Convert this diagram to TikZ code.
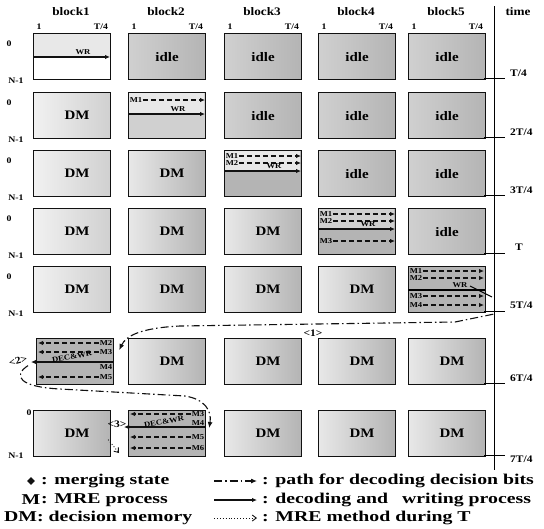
\documentclass[tikz,border=0pt]{standalone}
\usepackage{fontspec}
\setmainfont{Liberation Serif}[FakeStretch=1.15]
\newfontfamily\legendfont{Liberation Serif}[FakeStretch=1.32]
\usepackage{tikz}
\usetikzlibrary{arrows.meta,positioning,shapes.geometric,calc}
\usepackage{xcolor}
\definecolor{DotLight}{HTML}{E8E8E8}
\definecolor{DotMid}{HTML}{D0D0D0}
\definecolor{DotDark}{HTML}{B4B4B4}
\definecolor{Ink}{HTML}{111111}
\tikzset{
  blk/.style={draw=Ink, line width=1.2pt, anchor=north west, minimum width=77pt, minimum height=46pt, inner sep=0pt, font=\bfseries\fontsize{13}{14}\selectfont},
  lightbox/.style={blk, left color=DotLight!60, right color=DotMid},
  dmbox/.style={blk, left color=DotLight, right color=DotDark},
  idlebox/.style={blk, left color=DotMid, right color=DotDark},
  tag/.style={font=\bfseries\fontsize{7.5}{8}\selectfont, inner sep=0.5pt},
  side/.style={font=\bfseries\fontsize{8.5}{9}\selectfont, inner sep=0.5pt},
  head/.style={font=\bfseries\fontsize{11.5}{13}\selectfont, inner sep=1pt},
  tlabel/.style={font=\bfseries\fontsize{10}{11}\selectfont, anchor=west, inner sep=1pt},
  legtext/.style={font=\legendfont\bfseries\fontsize{15}{16}\selectfont, inner sep=0pt},
  wr/.style={line width=1.2pt, draw=Ink, -{Latex[length=5pt,width=4.5pt]}},
  mre/.style={line width=1.3pt, draw=Ink, dash pattern=on 5pt off 3pt, -{Latex[length=5pt,width=4.5pt]}},
  decpath/.style={line width=1.1pt, draw=Ink, dash pattern=on 8pt off 3pt on 1.5pt off 3pt, -{Latex[length=6pt,width=5pt]}},
  mremeth/.style={line width=0.9pt, draw=Ink, dotted, -{Straight Barb[length=4pt,width=6pt]}}
}

\begin{document}
\begin{tikzpicture}[x=1pt,y=-1pt]
\useasboundingbox (0,0) rectangle (544,528);
% headings
\node[head] (h1) at (71,12) {block1};
\node[head] (h2) at (166,12) {block2};
\node[head] (h3) at (262,12) {block3};
\node[head] (h4) at (356,12) {block4};
\node[head] (h5) at (446,12) {block5};
\node[head] (ht) at (518,12) {time};
\node[side] (s1) at (39,27) {1};  \node[side] (e1) at (101,27) {T/4};
\node[side] (s2) at (134,27) {1}; \node[side] (e2) at (196,27) {T/4};
\node[side] (s3) at (230,27) {1}; \node[side] (e3) at (292,27) {T/4};
\node[side] (s4) at (324,27) {1}; \node[side] (e4) at (386,27) {T/4};
\node[side] (s5) at (414,27) {1}; \node[side] (e5) at (476,27) {T/4};

% row 1
\fill[DotLight] (33,33) rectangle (110,57);
\node[blk] (b11) at (33,33) {};
\node[idlebox] (b21) at (128,33) {idle};
\node[idlebox] (b31) at (224,33) {idle};
\node[idlebox] (b41) at (318,33) {idle};
\node[idlebox] (b51) at (408,33) {idle};
% row 2
\node[lightbox] (b12) at (33,92) {\hspace*{10pt}DM};
\node[blk, fill=DotMid] (b22) at (128,92) {};
\node[idlebox] (b32) at (224,92) {idle};
\node[idlebox] (b42) at (318,92) {idle};
\node[idlebox] (b52) at (408,92) {idle};
% row 3
\node[lightbox] (b13) at (33,150) {\hspace*{10pt}DM};
\node[dmbox] (b23) at (128,150) {\hspace*{10pt}DM};
\node[blk, fill=DotDark] (b33) at (224,150) {};
\node[idlebox] (b43) at (318,150) {idle};
\node[idlebox] (b53) at (408,150) {idle};
% row 4
\node[lightbox] (b14) at (33,208) {\hspace*{10pt}DM};
\node[dmbox] (b24) at (128,208) {\hspace*{10pt}DM};
\node[dmbox] (b34) at (224,208) {\hspace*{10pt}DM};
\node[blk, fill=DotDark] (b44) at (318,208) {};
\node[idlebox] (b54) at (408,208) {idle};
% row 5
\node[lightbox] (b15) at (33,266) {\hspace*{10pt}DM};
\node[dmbox] (b25) at (128,266) {\hspace*{10pt}DM};
\node[dmbox] (b35) at (224,266) {\hspace*{10pt}DM};
\node[dmbox] (b45) at (318,266) {\hspace*{10pt}DM};
\node[blk, fill=DotDark] (b55) at (408,266) {};
% row 6
\node[blk, fill=DotDark] (b16) at (36,338) {};
\node[dmbox] (b26) at (128,338) {\hspace*{10pt}DM};
\node[dmbox] (b36) at (224,338) {\hspace*{10pt}DM};
\node[dmbox] (b46) at (318,338) {\hspace*{10pt}DM};
\node[dmbox] (b56) at (408,338) {\hspace*{10pt}DM};
% row 7
\node[dmbox] (b17) at (33,410) {\hspace*{10pt}DM};
\node[blk, fill=DotDark] (b27) at (128,410) {};
\node[dmbox] (b37) at (224,410) {\hspace*{10pt}DM};
\node[dmbox] (b47) at (318,410) {\hspace*{10pt}DM};
\node[dmbox] (b57) at (408,410) {\hspace*{10pt}DM};

% memory index
\node[side] (z1) at (9,44) {0};  \node[side] (n1) at (16,81) {N-1};
\node[side] (z2) at (9,103) {0}; \node[side] (n2) at (16,140) {N-1};
\node[side] (z3) at (9,161) {0}; \node[side] (n3) at (16,198) {N-1};
\node[side] (z4) at (9,219) {0}; \node[side] (n4) at (16,256) {N-1};
\node[side] (z5) at (9,277) {0}; \node[side] (n5) at (16,314) {N-1};
\node[side] (z7) at (29,413) {0}; \node[side] (n7) at (16,456) {N-1};

% block1, row 1
\begin{scope}[shift={(b11.north west)}]
\draw[wr] (0,24) -- (77,24);
\node[tag] (wr1) at (50,19) {WR};
\end{scope}
% block2, row 2
\begin{scope}[shift={(b22.north west)}]
\fill[DotLight] (0.6,0.6) rectangle (76.4,22);
\node[tag] (m22a) at (8,8) {M1};
\draw[mre] (m22a.east) -- (77,8);
\draw[wr] (0,22) -- (77,22);
\node[tag] (wr2) at (50,17) {WR};
\end{scope}
% block3, row 3
\begin{scope}[shift={(b33.north west)}]
\fill[DotLight] (0.6,0.6) rectangle (76.4,21);
\node[tag] (m33a) at (8,6) {M1};
\node[tag] (m33b) at (8,13) {M2};
\draw[mre] (m33a.east) -- (77,6);
\draw[mre] (m33b.east) -- (77,13);
\draw[wr] (0,21) -- (77,21);
\node[tag] (wr3) at (50,16) {WR};
\end{scope}
% block4, row 4
\begin{scope}[shift={(b44.north west)}]
\fill[DotMid] (0.6,0.6) rectangle (76.4,21);
\node[tag] (m44a) at (8,6) {M1};
\node[tag] (m44b) at (8,13) {M2};
\draw[mre] (m44a.east) -- (77,6);
\draw[mre] (m44b.east) -- (77,13);
\draw[wr] (0,21) -- (77,21);
\node[tag] (wr4) at (50,16) {WR};
\node[tag] (m44c) at (8,33) {M3};
\draw[mre] (m44c.east) -- (77,33);
\end{scope}
% block5, row 5
\begin{scope}[shift={(b55.north west)}]
\node[tag] (m55a) at (8,5) {M1};
\node[tag] (m55b) at (8,12) {M2};
\draw[mre] (m55a.east) -- (76,5);
\draw[mre] (m55b.east) -- (76,12);
\draw[line width=1.1pt] (0,24) -- (77,24);
\node[tag] (wr5) at (52,19.5) {WR};
\draw[line width=1pt] (62,20) -- (84,31);
\node[tag] (m55c) at (8,30) {M3};
\node[tag] (m55d) at (8,39) {M4};
\draw[mre] (m55c.east) -- (76,30);
\draw[mre] (m55d.east) -- (76,39);
\end{scope}
% block1, row 6 (decoding back)
\begin{scope}[shift={(b16.north west)}]
\node[tag] (m16a) at (70,5) {M2};
\node[tag] (m16b) at (70,14) {M3};
\node[tag] (m16c) at (70,29) {M4};
\node[tag] (m16d) at (70,39) {M5};
\draw[mre] (m16a.west) -- (2,5);
\draw[mre] (m16b.west) -- (2,14);
\draw[wr] (77,24) -- (-5,24);
\node[tag, rotate=10] (dw6) at (36,19) {DEC\&WR};
\draw[mre] (m16d.west) -- (2,39);
\end{scope}
% block2, row 7 (decoding back)
\begin{scope}[shift={(b27.north west)}]
\node[tag] (m27a) at (70,4) {M3};
\node[tag] (m27b) at (70,13) {M4};
\node[tag] (m27c) at (70,27) {M5};
\node[tag] (m27d) at (70,38) {M6};
\draw[mre] (m27a.west) -- (2,4);
\draw[wr] (77,17) -- (-4,17);
\node[tag, rotate=10] (dw7) at (36,12) {DEC\&WR};
\draw[mre] (m27c.west) -- (2,27);
\draw[mre] (m27d.west) -- (2,38);
\end{scope}

% paths for decoding decision bits
\coordinate (p1s) at ([xshift=7pt,yshift=-1pt]b55.south east);
\draw[decpath] (p1s) -- (455,322) -- (180,326) .. controls (140,328) and (126,336) .. ([xshift=5pt,yshift=-12pt]b16.north east);
\node[side, font=\bfseries\fontsize{10}{11}\selectfont] (lab1) at (313,333) {<1>};
\draw[decpath] ([xshift=-8pt,yshift=-4pt]b16.west) .. controls (12,376) and (20,387) .. (60,389) -- (185,396) .. controls (204,399) and (212,410) .. ([xshift=3pt,yshift=-18pt]b27.north east);
\node[side, font=\bfseries\fontsize{10}{11}\selectfont, rotate=15] (lab2) at (18,361) {<2>};
\coordinate (p3e) at (119,453);
\draw[mremeth] ([xshift=-3pt,yshift=-6pt]b17.east) -- (p3e);
\node[side, font=\bfseries\fontsize{10}{11}\selectfont] (lab3) at (117,424) {<3>};

% time axis
\draw[line width=0.8pt] (494,6) -- (494,470);
\draw[line width=0.8pt] (484,78) -- (505,78);   \node[tlabel] (t1) at (509,73) {T/4};
\draw[line width=0.8pt] (484,137) -- (505,137); \node[tlabel] (t2) at (509,132) {2T/4};
\draw[line width=0.8pt] (484,195) -- (505,195); \node[tlabel] (t3) at (509,190) {3T/4};
\draw[line width=0.8pt] (484,253) -- (505,253); \node[tlabel] (t4) at (514,247) {T};
\draw[line width=0.8pt] (484,311) -- (505,311); \node[tlabel] (t5) at (509,305) {5T/4};
\draw[line width=0.8pt] (484,383) -- (505,383); \node[tlabel] (t6) at (509,378) {6T/4};
\draw[line width=0.8pt] (484,455) -- (505,455); \node[tlabel] (t7) at (509,459) {7T/4};

% legend
\node[diamond, fill=Ink, minimum size=8pt, inner sep=0pt] (lgd) at (31,481) {};
\node[legtext, anchor=west] (lg1) at (41,481) {: merging state};
\node[legtext] (lgm) at (31,500) {M};
\node[legtext, anchor=west] (lg2) at (41,500) {: MRE process};
\node[legtext, anchor=west] (lg3) at (4,518) {DM: decision memory};
\coordinate (a1) at (214,481);
\coordinate (a2) at (214,500);
\coordinate (a3) at (214,518);
\node[legtext, anchor=west] (lg4) at (262,481) {: path for decoding decision bits};
\node[legtext, anchor=west] (lg5) at (262,500) {: decoding and\hspace{0.6em} writing process};
\node[legtext, anchor=west] (lg6) at (262,518) {: MRE method during T};
\draw[decpath] (a1) -- ([xshift=-5pt]lg4.west);
\draw[wr, line width=1.4pt] (a2) -- ([xshift=-5pt]lg5.west);
\draw[mremeth] (a3) -- ([xshift=-5pt]lg6.west);
\end{tikzpicture}
\end{document}
